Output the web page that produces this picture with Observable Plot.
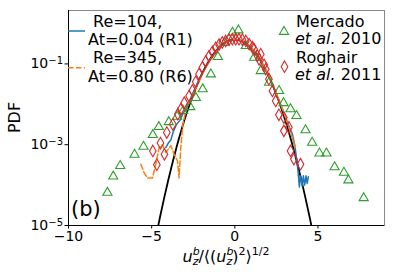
<!DOCTYPE html>
<html><head><meta charset="utf-8">
<script src="https://cdn.jsdelivr.net/npm/d3@7"></script>
<script src="https://cdn.jsdelivr.net/npm/@observablehq/plot@0.6"></script>
<style>body{margin:0;background:#fff}svg{display:block}</style>
</head><body><div id="chart"></div>
<script>
// axes
const xDomain = [-10, 9];
const yDomain = [1e-5, 2.1];
const xTicks = [-10, -5, 0, 5];
const yTicks = [1e-5, 1e-3, 1e-1];

// Gaussian reference (black)
const gaussX = [-4.75,-4.5,-4.25,-4,-3.75,-3.5,-3.25,-3,-2.75,-2.5,-2.25,-2,-1.75,-1.5,-1.25,-1,-0.75,-0.5,-0.25,0,0.25,0.5,0.75,1,1.25,1.5,1.75,2,2.25,2.5,2.75,3,3.25,3.5,3.75,4,4.25,4.5,4.75];
const gaussY = [5.03e-6,1.60e-5,4.76e-5,1.34e-4,3.53e-4,8.73e-4,2.03e-3,4.43e-3,9.09e-3,0.0175,0.0317,0.0540,0.0863,0.1295,0.1826,0.2420,0.3011,0.3521,0.3867,0.3989,0.3867,0.3521,0.3011,0.2420,0.1826,0.1295,0.0863,0.0540,0.0317,0.0175,9.09e-3,4.43e-3,2.03e-3,8.73e-4,3.53e-4,1.34e-4,4.76e-5,1.60e-5,5.03e-6];

// R1 (blue, solid)
const r1X = [-4.15,-4.0,-3.85,-3.7,-3.5,-3.3,-3.1,-2.9,-2.7,-2.5,-2.3,-2.1,-1.9,-1.7,-1.5,-1.3,-1.1,-0.9,-0.7,-0.5,-0.3,-0.1,0.1,0.3,0.5,0.7,0.9,1.1,1.3,1.5,1.7,1.9,2.1,2.3,2.5,2.7,2.9,3.1,3.3,3.45,3.6,3.7,3.8,3.88,3.95,4.05,4.12,4.2,4.28,4.35,4.42];
const r1Y = [8.5e-4,1.1e-3,1.3e-3,2.1e-3,3.2e-3,4.0e-3,6.0e-3,8.5e-3,0.013,0.02,0.03,0.045,0.064,0.09,0.123,0.165,0.215,0.265,0.31,0.355,0.385,0.40,0.40,0.39,0.36,0.31,0.26,0.21,0.165,0.125,0.090,0.063,0.043,0.028,0.018,0.011,0.0068,0.0042,0.0026,0.0019,0.0010,5e-4,2.2e-4,9e-5,1.7e-4,9.5e-5,1.7e-4,1.0e-4,1.7e-4,1.1e-4,1.6e-4];

// R6 (orange, dashed)
const r6X = [-5.65,-5.45,-5.25,-4.95,-4.75,-4.55,-4.35,-4.15,-3.85,-3.65,-3.45,-3.35,-3.25,-3.12,-2.95,-2.75,-2.5,-2.25,-2.0,-1.75,-1.5,-1.25,-1.0,-0.75,-0.5,-0.25,0,0.25,0.5,0.75,1.0,1.25,1.5,1.75,2.0,2.25,2.5,2.75,3.0,3.25,3.5,3.65];
const r6Y = [3.3e-4,2.0e-4,1.5e-4,1.5e-4,3.3e-4,8.5e-4,1.0e-3,6.4e-4,9.5e-4,5.8e-4,4.0e-4,1.5e-4,8.5e-4,3.2e-3,6.9e-3,0.011,0.018,0.030,0.050,0.080,0.12,0.17,0.23,0.29,0.34,0.38,0.40,0.39,0.36,0.31,0.25,0.19,0.135,0.09,0.057,0.034,0.019,0.0105,0.0055,0.0027,0.0013,8e-4];

// Mercado et al. 2010 (green triangles)
const mercX = [-7.66,-7.31,-6.89,-6.03,-5.49,-4.93,-4.57,-3.97,-3.47,-3.11,-2.68,-2.34,-1.93,-1.44,-1.02,-0.60,-0.14,0.22,0.66,1.16,1.56,2.06,2.66,2.93,3.35,3.71,4.25,4.65,5.09,5.51,6.00,6.56,6.83,7.75];
const mercY = [6.5e-5,1.64e-4,3.0e-4,5.7e-4,9.0e-4,1.75e-3,2.76e-3,3.66e-3,4.97e-3,6.9e-3,8.6e-3,0.0144,0.0237,0.0556,0.149,0.336,0.596,0.682,0.279,0.143,0.067,0.0344,0.0215,0.0108,7.6e-3,5.2e-3,2.3e-3,1.13e-3,6.1e-4,6.1e-4,2.8e-4,2.04e-4,1.32e-4,4.8e-5];

// Roghair et al. 2011 (red diamonds)
const rogX = [-4.93,-4.69,-4.47,-4.23,-4.09,-3.73,-3.43,-3.25,-3.04,-2.75,-2.55,-2.35,-2.15,-1.95,-1.75,-1.55,-1.35,-1.15,-0.95,-0.75,-0.55,-0.35,-0.15,0.05,0.25,0.45,0.66,0.86,1.06,1.16,1.36,1.46,1.56,1.76,1.86,2.05,2.26,2.46,2.65,2.95,2.95,3.25,3.35,3.55,3.95];
const rogY = [7.0e-4,3.2e-4,1.1e-3,5.8e-4,2.0e-3,3.2e-3,5.7e-3,7.5e-3,0.011,0.016,0.022,0.036,0.056,0.082,0.115,0.155,0.20,0.25,0.30,0.34,0.37,0.40,0.41,0.41,0.41,0.40,0.37,0.31,0.26,0.23,0.16,0.13,0.174,0.095,0.074,0.042,0.0215,0.0121,0.0055,0.0047,0.0022,0.0027,7.0e-4,4.4e-4,3.3e-4];

const zip = (xs, ys) => xs.map((x, i) => ({x, y: ys[i]}));
const FONT = "DejaVu Sans";

const plot = Plot.plot({
  width: 399, height: 275,
  marginLeft: 68, marginRight: 15, marginTop: 10, marginBottom: 50,
  style: {fontFamily: FONT, fontSize: "14px", background: "white", color: "black"},
  x: {domain: xDomain},
  y: {type: "log", domain: yDomain},
  marks: [
    Plot.frame({stroke: "#888", strokeWidth: 1}),
    Plot.ruleX([xDomain[0]], {stroke: "black", strokeWidth: 1}),
    Plot.ruleY([yDomain[0]], {stroke: "black", strokeWidth: 1}),
    Plot.axisX({ticks: xTicks, tickSize: 3.5, tickPadding: 2, fontSize: 14, label: null,
      tickFormat: d => (d < 0 ? "\u2212" + Math.abs(d) : String(d))}),
    Plot.axisY({ticks: yTicks, tickSize: 3.5, tickPadding: 2, fontSize: 14, label: null,
      tickFormat: d => "10|" + String(Math.round(Math.log10(d))).replace("-", "\u2212")}),
    Plot.line(zip(gaussX, gaussY), {x: "x", y: "y", stroke: "black", strokeWidth: 1.8, curve: "catmull-rom", clip: true}),
    Plot.line(zip(r1X, r1Y), {x: "x", y: "y", stroke: "#1f77b4", strokeWidth: 1.5, clip: true}),
    Plot.line(zip(r6X, r6Y), {x: "x", y: "y", stroke: "#ff7f0e", strokeWidth: 1.5, strokeDasharray: "5.5,2.4", clip: true}),
    Plot.dot(zip(mercX, mercY), {x: "x", y: "y", symbol: "triangle", r: 3.4, stroke: "#2ca02c", strokeWidth: 1.1, fill: "none"}),
    Plot.dot(zip(rogX, rogY), {x: "x", y: "y", symbol: "diamond", r: 3.5, stroke: "#d62728", strokeWidth: 1.1, fill: "none"})
  ]
});

const svg = d3.select(plot);
// superscript tick labels
svg.selectAll('g[aria-label="y-axis tick label"] text').each(function() {
  const parts = this.textContent.split("|");
  if (parts.length < 2) return;
  const t = d3.select(this);
  t.text(null);
  t.append("tspan").text(parts[0]);
  t.append("tspan").attr("dy", "-0.42em").attr("font-size", "10px").text(parts[1]);
});

// y label
svg.append("text").attr("transform", "translate(20,117.5) rotate(-90)")
  .attr("text-anchor", "middle").attr("font-family", FONT).attr("font-size", 16).text("PDF");

// x label
const xl = svg.append("text").attr("x", 226).attr("y", 262).attr("text-anchor", "middle")
  .attr("font-family", FONT).attr("font-size", 16);
function uzb(t) {
  t.append("tspan").attr("font-style", "italic").text("u");
  t.append("tspan").attr("font-style", "italic").attr("font-size", 11).attr("dy", -7).text("b");
  t.append("tspan").attr("font-style", "italic").attr("font-size", 11).attr("dx", -7).attr("dy", 10).text("z");
}
uzb(xl);
xl.append("tspan").attr("dy", -3).text("/\u27E8(");
uzb(xl);
xl.append("tspan").attr("dy", -3).text(")");
xl.append("tspan").attr("font-size", 11).attr("dy", -7).text("2");
xl.append("tspan").attr("dy", 7).text("\u27E9");
xl.append("tspan").attr("font-size", 11).attr("dy", -7).text("1/2");

// panel label
svg.append("text").attr("x", 71).attr("y", 216).attr("text-anchor", "start").attr("font-family", FONT).attr("font-size", 21).text("(b)");

// legend (left)
const lg = svg.append("g").attr("font-family", FONT).attr("font-size", 16).attr("fill", "black").attr("text-anchor", "start");
lg.append("line").attr("x1", 68).attr("x2", 85).attr("y1", 31).attr("y2", 31).attr("stroke", "#1f77b4").attr("stroke-width", 1.5);
lg.append("line").attr("x1", 68).attr("x2", 85).attr("y1", 67.7).attr("y2", 67.7).attr("stroke", "#ff7f0e").attr("stroke-width", 1.5).attr("stroke-dasharray", "5.5,2.4");
lg.append("text").attr("x", 93).attr("y", 27.3).text("Re=104,");
lg.append("text").attr("x", 88).attr("y", 45).text("At=0.04 (R1)");
lg.append("text").attr("x", 93).attr("y", 63.3).text("Re=345,");
lg.append("text").attr("x", 88).attr("y", 81.5).text("At=0.80 (R6)");
// legend (right)
lg.append("path").attr("transform", "translate(284,31.7)").attr("d", d3.symbol(d3.symbolTriangle, 3.4*3.4*Math.PI)()).attr("fill", "none").attr("stroke", "#2ca02c").attr("stroke-width", 1.1);
lg.append("path").attr("transform", "translate(284.5,66.7)").attr("d", d3.symbol(d3.symbolDiamond, 3.5*3.5*Math.PI)()).attr("fill", "none").attr("stroke", "#d62728").attr("stroke-width", 1.1);
lg.append("text").attr("x", 296).attr("y", 27).text("Mercado");
const e1 = lg.append("text").attr("x", 295).attr("y", 44);
e1.append("tspan").attr("font-style", "italic").text("et al.");
e1.append("tspan").text(" 2010");
lg.append("text").attr("x", 296).attr("y", 62.5).text("Roghair");
const e2 = lg.append("text").attr("x", 295).attr("y", 80);
e2.append("tspan").attr("font-style", "italic").text("et al.");
e2.append("tspan").text(" 2011");

document.getElementById("chart").appendChild(plot);
</script>
</body></html>
